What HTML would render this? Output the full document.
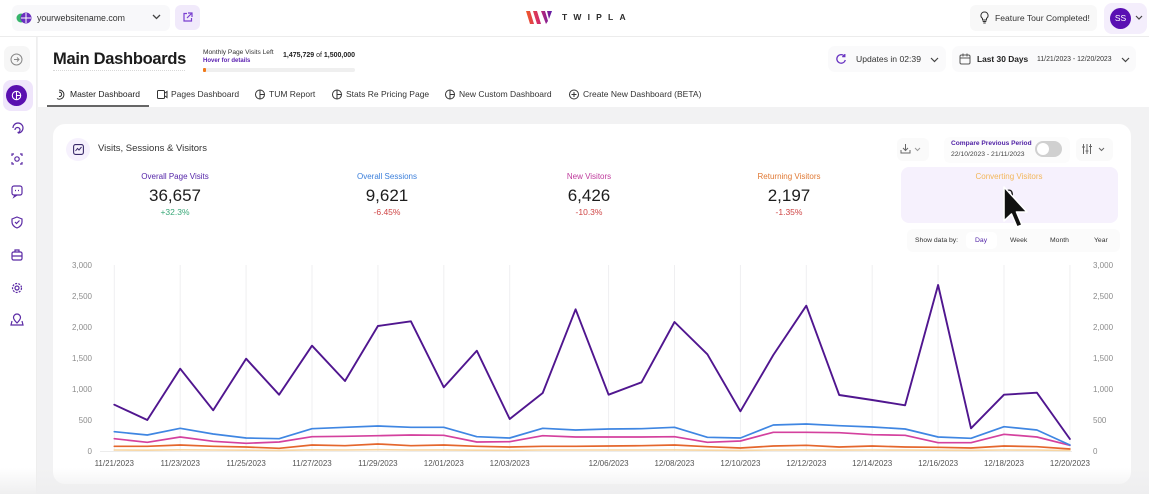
<!DOCTYPE html>
<html><head><meta charset="utf-8">
<style>
*{margin:0;padding:0;box-sizing:border-box}
body{width:1149px;height:494px;overflow:hidden;background:#f2f2f3;font-family:"Liberation Sans",Arial,sans-serif;position:relative;color:#222}
.a{position:absolute;white-space:nowrap}
.ic{position:absolute}
</style></head><body>

<!-- top bar -->
<div class="a" style="left:0;top:0;width:1149px;height:37px;background:#fff;border-bottom:1px solid #ececec"></div>
<div class="a" style="left:12px;top:5px;width:158px;height:26px;background:#f8f8fa;border-radius:6px"></div>
<svg class="ic" style="left:16px;top:11px" width="16" height="14" viewBox="0 0 16 14"><circle cx="5" cy="7" r="4.5" fill="#37b56b"/><circle cx="10" cy="7" r="5.5" fill="#6b2fc0"/><path d="M10 2v10M5 7h10" stroke="#fff" stroke-width="1"/></svg>
<div class="a" style="left:37px;top:12px;font-size:8.8px;color:#333;line-height:12px">yourwebsitename.com</div>
<svg class="ic" style="left:152px;top:14px" width="9" height="6" viewBox="0 0 9 6"><path d="M1 1l3.5 3.5L8 1" stroke="#444" stroke-width="1.3" fill="none"/></svg>
<div class="a" style="left:175px;top:5px;width:25px;height:25px;background:#f1eafb;border-radius:6px"></div>
<svg class="ic" style="left:182px;top:12px" width="11" height="11" viewBox="0 0 11 11"><path d="M5 1.5H2v7.5h7.5V6M6 1h4v4M10 1L5 6" stroke="#7a3fd0" stroke-width="1.2" fill="none"/></svg>

<!-- logo -->
<svg class="ic" style="left:526px;top:10px" width="27" height="15" viewBox="0 0 27 15"><defs><linearGradient id="lg" x1="0" x2="1"><stop offset="0" stop-color="#f05a28"/><stop offset="0.5" stop-color="#d22a6a"/><stop offset="1" stop-color="#5b1aa8"/></linearGradient></defs><path d="M0 1h4l4 13H4zM7 1h4l4 13h-4zM15 1h4l3 10-2 3zM21 1h5l-3 8z" fill="url(#lg)"/></svg>
<div class="a" style="left:562px;top:12px;font-size:8.5px;font-weight:bold;letter-spacing:6.2px;color:#2a2a2a;line-height:11px">TWIPLA</div>

<!-- feature tour -->
<div class="a" style="left:970px;top:5px;width:127px;height:26px;background:#f8f8f8;border-radius:6px"></div>
<svg class="ic" style="left:980px;top:11px" width="9" height="13" viewBox="0 0 9 13"><path d="M4.5 1a3.5 3.5 0 0 0-2 6.4V9h4V7.4A3.5 3.5 0 0 0 4.5 1zM2.7 10.5h3.6M3.3 12h2.4" stroke="#333" stroke-width="1" fill="none"/></svg>
<div class="a" style="left:995px;top:12px;font-size:8.6px;color:#333;line-height:12px">Feature Tour Completed!</div>
<div class="a" style="left:1104px;top:3px;width:43px;height:31px;background:#f4eefc;border-radius:8px"></div>
<div class="a" style="left:1110px;top:8px;width:21px;height:21px;background:#5a10b3;border-radius:50%;color:#fff;font-size:8.5px;text-align:center;line-height:21px">SS</div>
<svg class="ic" style="left:1135px;top:15px" width="8" height="6" viewBox="0 0 8 6"><path d="M1 1l3 3 3-3" stroke="#444" stroke-width="1.2" fill="none"/></svg>

<!-- sidebar -->
<div class="a" style="left:0;top:37px;width:37px;height:457px;background:#fff;border-right:1px solid #eeeeee"></div>
<div class="a" style="left:4px;top:46px;width:26px;height:26px;background:#f6f6f6;border-radius:7px"></div>
<svg class="ic" style="left:10px;top:53px" width="13" height="13" viewBox="0 0 13 13"><circle cx="6.5" cy="6.5" r="5.5" stroke="#888" stroke-width="1" fill="none"/><path d="M4 6.5h5M7 4.5l2 2-2 2" stroke="#888" stroke-width="1" fill="none"/></svg>
<div class="a" style="left:3px;top:80px;width:30px;height:31px;background:#efe5fb;border-radius:8px"></div>
<div class="a" style="left:6px;top:85px;width:21px;height:21px;background:#5a0fb0;border-radius:50%"></div>
<svg class="ic" style="left:11px;top:90px" width="11" height="11" viewBox="0 0 11 11"><circle cx="5.5" cy="5.5" r="4.2" stroke="#fff" stroke-width="1.1" fill="none"/><path d="M5.5 1.3v8.4M5.5 5.5h4" stroke="#fff" stroke-width="1.1"/></svg>
<svg class="ic" style="left:0;top:115px" width="37" height="220" viewBox="0 0 37 220" fill="none" stroke="#5b2aa5" stroke-width="1.2">
 <!-- y128 -->
 <path d="M13 13a5 5 0 1 1 5 5M15 15a2.5 2.5 0 1 1 2.5 2.5" />
 <!-- y159 -->
 <circle cx="17" cy="44" r="2.2"/><path d="M12 41v-2h2M22 41v-2h-2M12 47v2h2M22 47v2h-2"/>
 <!-- y191 -->
 <rect x="12" y="71" width="10" height="9" rx="2"/><path d="M15 80l-1 2 3-2"/><path d="M15 75.5h1M18 75.5h1"/>
 <!-- y223 -->
 <path d="M17 102l5 2v3c0 3-2.5 5-5 6-2.5-1-5-3-5-6v-3z"/><path d="M15 107l1.5 1.5 3-3"/>
 <!-- y256 -->
 <rect x="12" y="137" width="10" height="8" rx="1.5"/><path d="M15 137v-2h4v2M12 141h10"/>
 <!-- y288 -->
 <circle cx="17" cy="173" r="2"/><circle cx="17" cy="173" r="4.5" stroke-dasharray="2 1.2"/>
 <!-- y320 -->
 <path d="M17 208c-2.5-2.5-3.5-4-3.5-5.5a3.5 3.5 0 0 1 7 0c0 1.5-1 3-3.5 5.5z"/><path d="M12 206l-1 4h12l-1-4"/>
</svg>

<!-- header white area -->
<div class="a" style="left:38px;top:37px;width:1111px;height:70px;background:#fff"></div>
<div class="a" style="left:53px;top:49px;font-size:16.5px;font-weight:bold;letter-spacing:-0.3px;color:#1b1b1b;line-height:20px">Main Dashboards</div>
<div class="a" style="left:53px;top:70px;width:132px;height:0;border-top:1px dotted #d8d8d8"></div>
<div class="a" style="left:203px;top:49px;font-size:6.6px;color:#333;line-height:8px">Monthly Page Visits Left</div>
<div class="a" style="left:203px;top:57px;font-size:6px;color:#5a1fb0;font-weight:bold;line-height:8px">Hover for details</div>
<div class="a" style="left:283px;top:51px;font-size:7px;color:#222;font-weight:bold;line-height:9px">1,475,729 <span style="font-weight:normal">of</span> 1,500,000</div>
<div class="a" style="left:203px;top:68px;width:152px;height:4px;background:#efefef;border-radius:2px"></div>
<div class="a" style="left:203px;top:68px;width:3px;height:4px;background:#f07a1a;border-radius:1px"></div>

<div class="a" style="left:828px;top:46px;width:118px;height:26px;background:#fafafb;border-radius:7px"></div>
<svg class="ic" style="left:835px;top:53px" width="12" height="12" viewBox="0 0 12 12"><path d="M9.5 3.2A4.3 4.3 0 1 0 10.3 7" stroke="#6a35c2" stroke-width="1.3" fill="none"/><path d="M9.8 1v2.6H7.2" stroke="#6a35c2" stroke-width="1.3" fill="none"/></svg>
<div class="a" style="left:856px;top:54px;font-size:8.6px;color:#333;line-height:11px">Updates in 02:39</div>
<svg class="ic" style="left:930px;top:57px" width="9" height="6" viewBox="0 0 9 6"><path d="M1 1l3.5 3.5L8 1" stroke="#444" stroke-width="1.2" fill="none"/></svg>
<div class="a" style="left:952px;top:46px;width:184px;height:26px;background:#fafafb;border-radius:7px"></div>
<svg class="ic" style="left:959px;top:53px" width="12" height="12" viewBox="0 0 12 12"><rect x="1" y="2" width="10" height="9" rx="1.5" stroke="#555" stroke-width="1" fill="none"/><path d="M1 5h10M4 0.5v3M8 0.5v3" stroke="#555" stroke-width="1"/></svg>
<div class="a" style="left:977px;top:54px;font-size:8.4px;color:#222;font-weight:bold;line-height:11px">Last 30 Days</div>
<div class="a" style="left:1037px;top:55px;font-size:6.9px;color:#333;line-height:9px">11/21/2023 - 12/20/2023</div>
<svg class="ic" style="left:1121px;top:57px" width="9" height="6" viewBox="0 0 9 6"><path d="M1 1l3.5 3.5L8 1" stroke="#444" stroke-width="1.2" fill="none"/></svg>

<!-- tabs -->
<svg class="ic" style="left:0;top:87px" width="720" height="16" viewBox="0 0 720 16" fill="none" stroke="#333" stroke-width="1">
 <path d="M57 11.5a4.5 4.5 0 1 0 2-8.3M59 9.5a2.2 2.2 0 1 0 0-4.3" />
 <rect x="157.5" y="3.5" width="7" height="8" rx="1"/><path d="M165 6l2-1.5v6L165 9"/>
 <circle cx="260" cy="7.5" r="4.5"/><path d="M260 3v9M260 7.5h4.5"/>
 <circle cx="337" cy="7.5" r="4.5"/><path d="M337 3v9M337 7.5h4.5"/>
 <circle cx="450" cy="7.5" r="4.5"/><path d="M450 3v9M450 7.5h4.5"/>
 <circle cx="574" cy="7.5" r="4.5"/><path d="M574 5v5M571.5 7.5h5"/>
</svg>
<div class="a" style="left:70px;top:89px;font-size:8.5px;color:#222;line-height:11px">Master Dashboard</div>
<div class="a" style="left:171px;top:89px;font-size:8.5px;color:#333;line-height:11px">Pages Dashboard</div>
<div class="a" style="left:269px;top:89px;font-size:8.5px;color:#333;line-height:11px">TUM Report</div>
<div class="a" style="left:346px;top:89px;font-size:8.5px;color:#333;line-height:11px">Stats Re Pricing Page</div>
<div class="a" style="left:459px;top:89px;font-size:8.5px;color:#333;line-height:11px">New Custom Dashboard</div>
<div class="a" style="left:583px;top:89px;font-size:8.5px;color:#333;line-height:11px">Create New Dashboard (BETA)</div>
<div class="a" style="left:47px;top:105px;width:102px;height:2px;background:#666"></div>

<!-- card -->
<div class="a" style="left:53px;top:124px;width:1078px;height:360px;background:#fff;border-radius:12px"></div>
<div class="a" style="left:66px;top:138px;width:24px;height:23px;background:#f6f1fd;border-radius:50%"></div>
<svg class="ic" style="left:73px;top:144px" width="11" height="11" viewBox="0 0 11 11"><rect x="0.6" y="0.6" width="9.8" height="9.8" rx="2" stroke="#3a2a6a" stroke-width="1.1" fill="none"/><path d="M2.5 7l2-2.5 1.5 1.5 2.5-3" stroke="#3a2a6a" stroke-width="1" fill="none"/></svg>
<div class="a" style="left:98px;top:143px;font-size:9.5px;color:#333;line-height:12px">Visits, Sessions &amp; Visitors</div>

<div class="a" style="left:897px;top:138px;width:32px;height:23px;background:#fafafa;border-radius:6px"></div>
<svg class="ic" style="left:900px;top:143px" width="24" height="12" viewBox="0 0 24 12"><path d="M5.5 1v6M3 5l2.5 2.5L8 5M1 7v3h9V7" stroke="#666" stroke-width="1" fill="none"/><path d="M15 5l2.5 2.5L20 5" stroke="#999" stroke-width="1" fill="none"/></svg>
<div class="a" style="left:944px;top:137px;width:126px;height:26px;background:#fcfcfc;border-radius:6px"></div>
<div class="a" style="left:951px;top:140px;font-size:6.6px;color:#4e1fa4;font-weight:bold;line-height:8px">Compare Previous Period</div>
<div class="a" style="left:951px;top:151px;font-size:6.8px;color:#444;line-height:8px">22/10/2023 - 21/11/2023</div>
<div class="a" style="left:1035px;top:141px;width:27px;height:16px;background:#d0d0d0;border-radius:8px"></div>
<div class="a" style="left:1037px;top:143px;width:12px;height:12px;background:#fff;border-radius:50%"></div>
<div class="a" style="left:1076px;top:138px;width:37px;height:23px;background:#fafafa;border-radius:6px"></div>
<svg class="ic" style="left:1082px;top:143px" width="26" height="12" viewBox="0 0 26 12"><path d="M1.5 1v10M5 1v10M8.5 1v10" stroke="#666" stroke-width="1"/><path d="M0 4h3M3.5 8h3M7 3.5h3" stroke="#666" stroke-width="1"/><path d="M17 5l2.5 2.5L22 5" stroke="#666" stroke-width="1" fill="none"/></svg>

<!-- KPIs -->
<div class="a" style="left:901px;top:167px;width:217px;height:56px;background:#f6f1fd;border-radius:8px"></div>
<div class="a" style="left:75px;top:172px;width:200px;text-align:center;font-size:8px;color:#5424a8;line-height:10px">Overall Page Visits</div>
<div class="a" style="left:75px;top:186px;width:200px;text-align:center;font-size:17px;color:#1d1d1d;line-height:20px">36,657</div>
<div class="a" style="left:75px;top:207px;width:200px;text-align:center;font-size:8.5px;color:#38a878;line-height:10px">+32.3%</div>

<div class="a" style="left:287px;top:172px;width:200px;text-align:center;font-size:8px;color:#3b7fdb;line-height:10px">Overall Sessions</div>
<div class="a" style="left:287px;top:186px;width:200px;text-align:center;font-size:17px;color:#1d1d1d;line-height:20px">9,621</div>
<div class="a" style="left:287px;top:207px;width:200px;text-align:center;font-size:8.5px;color:#cf4444;line-height:10px">-6.45%</div>

<div class="a" style="left:489px;top:172px;width:200px;text-align:center;font-size:8px;color:#bf3a9c;line-height:10px">New Visitors</div>
<div class="a" style="left:489px;top:186px;width:200px;text-align:center;font-size:17px;color:#1d1d1d;line-height:20px">6,426</div>
<div class="a" style="left:489px;top:207px;width:200px;text-align:center;font-size:8.5px;color:#cf4444;line-height:10px">-10.3%</div>

<div class="a" style="left:689px;top:172px;width:200px;text-align:center;font-size:8px;color:#e07934;line-height:10px">Returning Visitors</div>
<div class="a" style="left:689px;top:186px;width:200px;text-align:center;font-size:17px;color:#1d1d1d;line-height:20px">2,197</div>
<div class="a" style="left:689px;top:207px;width:200px;text-align:center;font-size:8.5px;color:#cf4444;line-height:10px">-1.35%</div>

<div class="a" style="left:909px;top:172px;width:200px;text-align:center;font-size:8px;color:#f2b65a;line-height:10px">Converting Visitors</div>
<div class="a" style="left:909px;top:186px;width:200px;text-align:center;font-size:17px;color:#1d1d1d;line-height:20px">0</div>

<!-- show data by -->
<div class="a" style="left:907px;top:229px;width:213px;height:23px;background:#fbfbfb;border-radius:6px"></div>
<div class="a" style="left:966px;top:232px;width:31px;height:17px;background:#fff;border-radius:5px"></div>
<div class="a" style="left:915px;top:236px;font-size:6.8px;color:#333;line-height:9px">Show data by:</div>
<div class="a" style="left:975px;top:236px;font-size:6.8px;color:#4e1fa4;line-height:9px">Day</div>
<div class="a" style="left:1010px;top:236px;font-size:6.8px;color:#333;line-height:9px">Week</div>
<div class="a" style="left:1050px;top:236px;font-size:6.8px;color:#333;line-height:9px">Month</div>
<div class="a" style="left:1094px;top:236px;font-size:6.8px;color:#333;line-height:9px">Year</div>

<!-- chart -->
<svg class="ic" style="left:0;top:0" width="1149" height="494" viewBox="0 0 1149 494">
 <g stroke="#efeff1" stroke-width="1">
  <path d="M114.3 265V451M180.2 265V451M246.1 265V451M312 265V451M377.9 265V451M443.8 265V451M509.7 265V451M608.6 265V451M674.5 265V451M740.4 265V451M806.3 265V451M872.2 265V451M938.1 265V451M1004 265V451M1069.9 265V451"/>
 </g>
 <path d="M100 451.5H1072" stroke="#ececec" stroke-width="1"/>
 <g font-family="Liberation Sans, Arial, sans-serif" font-size="8" fill="#8c8c8c">
  <g text-anchor="end">
   <text x="92" y="268">3,000</text><text x="92" y="299">2,500</text><text x="92" y="330">2,000</text><text x="92" y="361">1,500</text><text x="92" y="392">1,000</text><text x="92" y="423">500</text><text x="92" y="454">0</text>
  </g>
  <g>
   <text x="1093" y="268">3,000</text><text x="1093" y="299">2,500</text><text x="1093" y="330">2,000</text><text x="1093" y="361">1,500</text><text x="1093" y="392">1,000</text><text x="1093" y="423">500</text><text x="1093" y="454">0</text>
  </g>
 </g>
 <g font-family="Liberation Sans, Arial, sans-serif" font-size="8" fill="#555" text-anchor="middle">
  <text x="114.3" y="466">11/21/2023</text><text x="180.2" y="466">11/23/2023</text><text x="246.1" y="466">11/25/2023</text><text x="312" y="466">11/27/2023</text><text x="377.9" y="466">11/29/2023</text><text x="443.8" y="466">12/01/2023</text><text x="509.7" y="466">12/03/2023</text><text x="608.6" y="466">12/06/2023</text><text x="674.5" y="466">12/08/2023</text><text x="740.4" y="466">12/10/2023</text><text x="806.3" y="466">12/12/2023</text><text x="872.2" y="466">12/14/2023</text><text x="938.1" y="466">12/16/2023</text><text x="1004" y="466">12/18/2023</text><text x="1069.9" y="466">12/20/2023</text>
 </g>
 <g fill="none" stroke-linejoin="round" stroke-linecap="round">
  <polyline stroke="#f7d6a3" stroke-width="1.6" points="114.3,450 147.3,450.2 180.2,449.8 213.2,450 246.1,450.2 279.1,450.4 312,449.8 345,450 377.9,449.7 410.9,450 443.8,449.9 476.8,450.2 509.7,450.3 542.7,450 575.6,450 608.6,450 641.5,450 674.5,449.9 707.4,450.2 740.4,450.4 773.3,450 806.3,449.9 839.2,450.1 872.2,450 905.1,450.1 938.1,450.2 971,450.3 1004,450 1036.9,450.1 1069.9,450.5"/>
  <polyline stroke="#e4662c" stroke-width="1.7" points="114.3,446.3 147.3,446.3 180.2,445 213.2,446.3 246.1,447 279.1,448.3 312,445 345,445.7 377.9,444 410.9,445.7 443.8,445 476.8,446.3 509.7,447 542.7,446.3 575.6,446.3 608.6,446 641.5,445.7 674.5,445 707.4,446.7 740.4,448 773.3,446 806.3,445.3 839.2,447 872.2,446 905.1,447 938.1,447.3 971,448 1004,446 1036.9,446.7 1069.9,449"/>
  <polyline stroke="#d4419e" stroke-width="1.7" points="114.3,438.7 147.3,442.3 180.2,437 213.2,441.3 246.1,443.3 279.1,442 312,436.7 345,436.3 377.9,435.7 410.9,435 443.8,435.3 476.8,442 509.7,441.7 542.7,435.7 575.6,437 608.6,437 641.5,437 674.5,436.7 707.4,442.3 740.4,441 773.3,432.3 806.3,432.3 839.2,432.7 872.2,434.7 905.1,435.3 938.1,442.7 971,442.7 1004,434.3 1036.9,437 1069.9,445.3"/>
  <polyline stroke="#3f86e2" stroke-width="1.7" points="114.3,431.7 147.3,435 180.2,428.3 213.2,434 246.1,438 279.1,438.7 312,428.7 345,427.3 377.9,426 410.9,427.3 443.8,427.3 476.8,436.7 509.7,438 542.7,428.3 575.6,430 608.6,429 641.5,428.7 674.5,427.3 707.4,437.3 740.4,438 773.3,425 806.3,424 839.2,425.7 872.2,427 905.1,429 938.1,437 971,438.3 1004,426.7 1036.9,430 1069.9,445"/>
  <polyline stroke="#50168f" stroke-width="1.9" points="114.3,404.7 147.3,420 180.2,368.7 213.2,410.3 246.1,358.7 279.1,394.7 312,345.7 345,381 377.9,326 410.9,321.3 443.8,387.3 476.8,350.7 509.7,419 542.7,393 575.6,309.3 608.6,394.7 641.5,382.3 674.5,322 707.4,354.3 740.4,411.3 773.3,355 806.3,305.7 839.2,395 872.2,400 905.1,405.3 938.1,285 971,428.3 1004,394.7 1036.9,392.7 1069.9,439"/>
 </g>
 <!-- cursor -->
 <polygon points="1004,187 1004,221 1011.5,214 1017,227 1022,225 1016.5,212 1027,212" fill="#111" stroke="#fff" stroke-width="1.6" stroke-linejoin="round"/>
</svg>

<!-- bottom fade -->
<div class="a" style="left:0;top:468px;width:1149px;height:26px;background:linear-gradient(to bottom,rgba(242,242,243,0),rgba(238,238,239,0.95))"></div>
</body></html>
